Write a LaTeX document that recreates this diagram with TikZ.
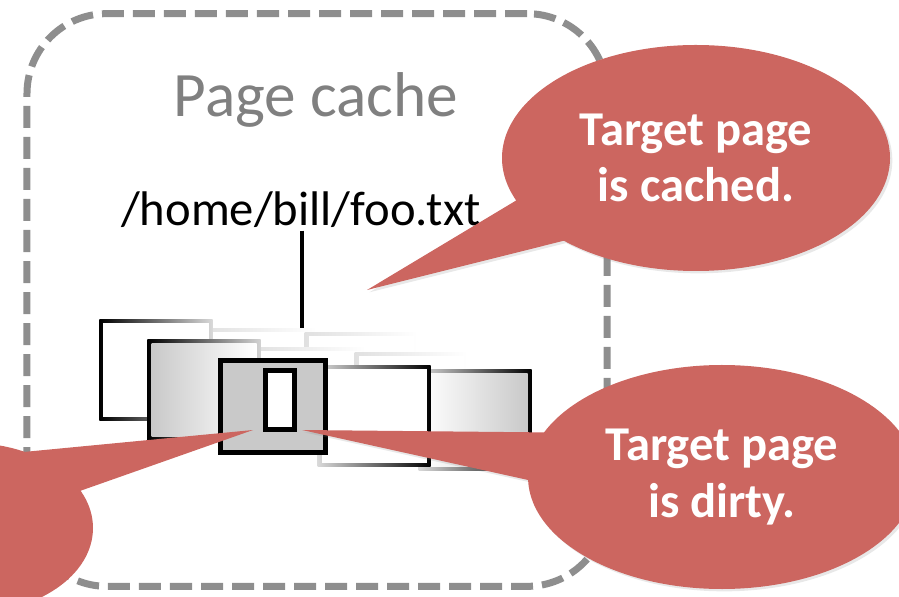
\documentclass[tikz,border=0pt]{standalone}
\usepackage{fontspec}
\setmainfont{Carlito}
\usetikzlibrary{shapes.callouts,shadows}
\definecolor{bubbleColor}{RGB}{204,102,96}
\definecolor{cacheColor}{RGB}{142,142,142}
\definecolor{titleColor}{RGB}{128,128,128}
\definecolor{pageColor}{RGB}{201,201,201}
\definecolor{ghostColor}{RGB}{224,224,224}

\begin{document}
\begin{tikzpicture}[x=0.03cm,y=-0.03cm]
    \tikzstyle{cachebox} = [draw=cacheColor,rectangle,rounded corners=2.4cm,line width=0.21cm,dash pattern=on 0.66cm off 0.27cm,minimum width=17.4cm,minimum height=17.18cm]
    \tikzstyle{rim} = [rectangle,inner sep=0pt,outer sep=0pt,minimum width=3.39cm,minimum height=3.03cm]
    \tikzstyle{sheet} = [rectangle,inner sep=0pt,outer sep=0pt,minimum width=3.15cm,minimum height=2.79cm]
    \tikzstyle{bubble} = [ellipse callout,fill=bubbleColor,text=white,inner sep=0pt,align=center,callout pointer arc=25,font=\bfseries\fontsize{41.5}{48}\selectfont,drop shadow={opacity=.18,shadow xshift=2pt,shadow yshift=-2pt}]

    \useasboundingbox (0,0) rectangle (899,597);
    \clip (0,0) rectangle (899,597);

    \node [cachebox] (cache) at (317,300) {};
    \node [anchor=base,text=titleColor,font=\fontsize{54}{60}\selectfont] (title) at (316,117) {Page cache};
    \node [anchor=base,inner sep=2pt,font=\fontsize{41.5}{48}\selectfont] (file) at (301,226) {/home/bill/foo.txt};

    \coordinate (stacktop) at (302,331);
    \draw [line width=0.12cm] (file.south -| stacktop) -- (stacktop);

    % back row
    \node [rim,left color=ghostColor,right color=white] (ghost1) at (260,379) {};
    \node [sheet,fill=white] at (ghost1) {};
    \node [rim,left color=ghostColor,right color=white] (ghost2) at (361,383) {};
    \node [sheet,fill=white] at (ghost2) {};
    \node [rim,left color=black,right color=gray!30] (page1) at (156,370) {};
    \node [sheet,fill=white] at (page1) {};

    % middle row
    \node [rim,left color=ghostColor,right color=white] (ghost3) at (309,398) {};
    \node [sheet,fill=white] at (ghost3) {};
    \node [rim,left color=ghostColor,right color=white] (ghost4) at (411,403) {};
    \node [sheet,fill=white] at (ghost4) {};
    \node [rim,left color=black,right color=gray!35] (page2) at (204,390) {};
    \node [sheet,left color=pageColor,middle color=white,right color=white] at (page2) {};

    % front row
    \node [rim,left color=gray!30,right color=black] (page5) at (475,420) {};
    \node [sheet,left color=white,middle color=pageColor,right color=pageColor] at (page5) {};
    \node [rim,left color=gray!30,right color=black] (page4) at (374,416) {};
    \node [sheet,fill=white] at (page4) {};
    \node [rectangle,draw,fill=pageColor,line width=0.15cm,minimum width=3.15cm,minimum height=2.76cm] (page3) at (273,406.5) {};
    \node [rectangle,draw,fill=white,line width=0.15cm,minimum width=0.87cm,minimum height=1.77cm] (dirty) at (280,400) {};

    % callouts
    \coordinate (lefttip) at (253,430);
    \coordinate (dirtytip) at (302,430);
    \coordinate (cachedtip) at (367,290);

    % bubble cut off at the left edge
    \fill [bubbleColor] (-30,528) ellipse [x radius=123,y radius=85];
    \fill [bubbleColor] (13,453) -- (lefttip) -- (77,492) -- cycle;

    \node [bubble,minimum width=11.64cm,minimum height=6.72cm,callout absolute pointer={(dirtytip)}] (isdirty) at (722,477) {Target page\\is dirty.};
    \node [bubble,minimum width=11.64cm,minimum height=6.78cm,callout absolute pointer={(cachedtip)}] (iscached) at (696,158) {Target page\\is cached.};
\end{tikzpicture}
\end{document}
